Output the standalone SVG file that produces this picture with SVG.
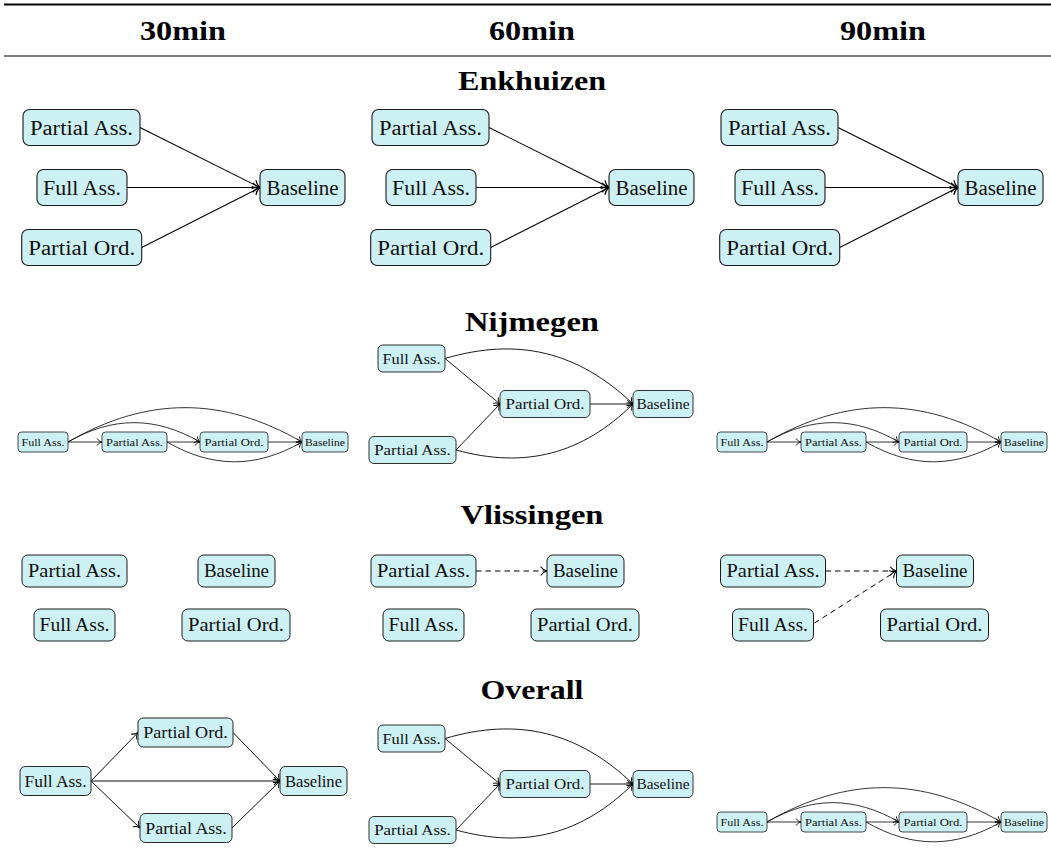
<svg xmlns="http://www.w3.org/2000/svg" width="1051" height="862" viewBox="0 0 1051 862" font-family="'Liberation Serif', 'Times New Roman', serif">
<defs>
<style>
.bg{fill:#fff}
.n rect{fill:#cdf0f3;stroke:#1a1a1a}
text.t{font-family:'Liberation Serif','Times New Roman',serif;text-anchor:middle;fill:#111}
.h{font-family:'Liberation Serif','Times New Roman',serif;font-weight:bold;font-size:28px;text-anchor:middle;fill:#000}
.rule{stroke:#000}
.e{fill:none;stroke:#000;marker-end:url(#arr)}
.d{stroke-dasharray:5.5 4}
.s20 text{font-size:20px}.s20 rect{stroke-width:1.1}.s20 .e{stroke-width:1.1}
.s18 text{font-size:18px}.s18 rect{stroke-width:1}.s18 .e{stroke-width:1}
.s16 text{font-size:15.8px}.s16 rect{stroke-width:0.95}.s16 .e{stroke-width:0.95}
.s15 text{font-size:14.8px}.s15 rect{stroke-width:0.9}.s15 .e{stroke-width:0.9}
.s11 text{font-size:11px}.s11 rect{stroke-width:0.8}.s11 .e{stroke-width:0.8}
</style>
<marker id="arr" viewBox="-7 -5 8 10" refX="0" refY="0" markerWidth="8" markerHeight="10" markerUnits="strokeWidth" orient="auto">
<path d="M-6,-4 C-4.5,-1.6 -1.5,-0.4 0,0 C-1.5,0.4 -4.5,1.6 -6,4" fill="none" stroke="#000" stroke-width="1.1" stroke-linecap="round"/>
</marker>
</defs>
<rect class="bg" x="0" y="0" width="1051" height="862"/>

<g id="table">
<line class="rule" x1="4" y1="4.5" x2="1051" y2="4.5" stroke-width="2"/>
<line class="rule" x1="4" y1="56" x2="1051" y2="56" stroke-width="1.2"/>
<text class="h" x="183" y="40" textLength="86" lengthAdjust="spacingAndGlyphs">30min</text>
<text class="h" x="532" y="40" textLength="86" lengthAdjust="spacingAndGlyphs">60min</text>
<text class="h" x="883" y="40" textLength="86" lengthAdjust="spacingAndGlyphs">90min</text>
<text class="h" x="532" y="90" textLength="148" lengthAdjust="spacingAndGlyphs">Enkhuizen</text>
<text class="h" x="532" y="331" textLength="134" lengthAdjust="spacingAndGlyphs">Nijmegen</text>
<text class="h" x="532" y="524" textLength="143" lengthAdjust="spacingAndGlyphs">Vlissingen</text>
<text class="h" x="532" y="699" textLength="103" lengthAdjust="spacingAndGlyphs">Overall</text>
</g>

<g id="connectors">
<g class="s20">
<g id="edges-enk30"><path class="e" d="M140,127.5 L260,187.5"/><path class="e" d="M127,187.5 L260,187.5"/><path class="e" d="M141.7,247.5 L260,187.5"/></g>
<g id="edges-enk60" transform="translate(349 0)"><path class="e" d="M140,127.5 L260,187.5"/><path class="e" d="M127,187.5 L260,187.5"/><path class="e" d="M141.7,247.5 L260,187.5"/></g>
<g id="edges-enk90" transform="translate(698 0)"><path class="e" d="M140,127.5 L260,187.5"/><path class="e" d="M127,187.5 L260,187.5"/><path class="e" d="M141.7,247.5 L260,187.5"/></g>
</g>
<g class="s11">
<g id="edges-nij30"><path class="e" d="M68,442 L102,442"/><path class="e" d="M167,442 L200,442"/><path class="e" d="M268,442 L302,442"/><path class="e" d="M68,442 C112.8,416.2 155.2,416.2 200,442"/><path class="e" d="M68,442 C147.3,396.2 222.7,396.2 302,442"/><path class="e" d="M167,442 C212.8,468.4 256.2,468.4 302,442"/></g>
<g id="edges-nij90" transform="translate(699 0)"><path class="e" d="M68,442 L102,442"/><path class="e" d="M167,442 L200,442"/><path class="e" d="M268,442 L302,442"/><path class="e" d="M68,442 C112.8,416.2 155.2,416.2 200,442"/><path class="e" d="M68,442 C147.3,396.2 222.7,396.2 302,442"/><path class="e" d="M167,442 C212.8,468.4 256.2,468.4 302,442"/></g>
<g id="edges-all90" transform="translate(699 380)"><path class="e" d="M68,442 L102,442"/><path class="e" d="M167,442 L200,442"/><path class="e" d="M268,442 L302,442"/><path class="e" d="M68,442 C112.8,416.2 155.2,416.2 200,442"/><path class="e" d="M68,442 C147.3,396.2 222.7,396.2 302,442"/><path class="e" d="M167,442 C212.8,468.4 256.2,468.4 302,442"/></g>
</g>
<g class="s15">
<g id="edges-nij60"><path class="e" d="M445,358.5 L500,404"/><path class="e" d="M456,450 L500,404"/><path class="e" d="M590,404 L633,404"/><path class="e" d="M445,358.5 C517.7,337 578.2,351.6 633,404"/><path class="e" d="M456,450 C525,469 582,454.3 633,404"/></g>
<g id="edges-all60" transform="translate(0 380)"><path class="e" d="M445,358.5 L500,404"/><path class="e" d="M456,450 L500,404"/><path class="e" d="M590,404 L633,404"/><path class="e" d="M445,358.5 C517.7,337 578.2,351.6 633,404"/><path class="e" d="M456,450 C525,469 582,454.3 633,404"/></g>
</g>
<g class="s18">
<g id="edges-vli60" transform="translate(349 0)"><path class="e d" d="M127,571 L198,571"/></g>
<g id="edges-vli90" transform="translate(698.5 0)"><path class="e d" d="M127,571 L198,571"/><path class="e d" d="M116,623 L198,571"/></g>
</g>
<g class="s16">
<g id="edges-all30"><path class="e" d="M91,781 L138,732.5"/><path class="e" d="M91,781 L280,781"/><path class="e" d="M91,781 L140,828"/><path class="e" d="M233,732.5 L280,781"/><path class="e" d="M232,828 L280,781"/></g>
</g>
</g>

<!-- Enkhuizen -->
<g class="s20" font-family="'Liberation Serif', 'Times New Roman', serif">
<g id="nodes-enk30">
<g id="enk30-pa" class="n"><rect x="23" y="109.5" width="117" height="36" rx="6.5"/><text class="t" x="81.5" y="134.5" textLength="103" lengthAdjust="spacingAndGlyphs">Partial Ass.</text></g>
<g id="enk30-fa" class="n"><rect x="37" y="169.5" width="90" height="36" rx="6.5"/><text class="t" x="82" y="194.5" textLength="78" lengthAdjust="spacingAndGlyphs">Full Ass.</text></g>
<g id="enk30-po" class="n"><rect x="21.7" y="229.5" width="120" height="36" rx="6.5"/><text class="t" x="81.7" y="254.5" textLength="107" lengthAdjust="spacingAndGlyphs">Partial Ord.</text></g>
<g id="enk30-bl" class="n"><rect x="260" y="169.5" width="85" height="36" rx="6.5"/><text class="t" x="302.5" y="194.5" textLength="72" lengthAdjust="spacingAndGlyphs">Baseline</text></g>
</g>
<g id="nodes-enk60" transform="translate(349 0)">
<g id="enk60-pa" class="n"><rect x="23" y="109.5" width="117" height="36" rx="6.5"/><text class="t" x="81.5" y="134.5" textLength="103" lengthAdjust="spacingAndGlyphs">Partial Ass.</text></g>
<g id="enk60-fa" class="n"><rect x="37" y="169.5" width="90" height="36" rx="6.5"/><text class="t" x="82" y="194.5" textLength="78" lengthAdjust="spacingAndGlyphs">Full Ass.</text></g>
<g id="enk60-po" class="n"><rect x="21.7" y="229.5" width="120" height="36" rx="6.5"/><text class="t" x="81.7" y="254.5" textLength="107" lengthAdjust="spacingAndGlyphs">Partial Ord.</text></g>
<g id="enk60-bl" class="n"><rect x="260" y="169.5" width="85" height="36" rx="6.5"/><text class="t" x="302.5" y="194.5" textLength="72" lengthAdjust="spacingAndGlyphs">Baseline</text></g>
</g>
<g id="nodes-enk90" transform="translate(698 0)">
<g id="enk90-pa" class="n"><rect x="23" y="109.5" width="117" height="36" rx="6.5"/><text class="t" x="81.5" y="134.5" textLength="103" lengthAdjust="spacingAndGlyphs">Partial Ass.</text></g>
<g id="enk90-fa" class="n"><rect x="37" y="169.5" width="90" height="36" rx="6.5"/><text class="t" x="82" y="194.5" textLength="78" lengthAdjust="spacingAndGlyphs">Full Ass.</text></g>
<g id="enk90-po" class="n"><rect x="21.7" y="229.5" width="120" height="36" rx="6.5"/><text class="t" x="81.7" y="254.5" textLength="107" lengthAdjust="spacingAndGlyphs">Partial Ord.</text></g>
<g id="enk90-bl" class="n"><rect x="260" y="169.5" width="85" height="36" rx="6.5"/><text class="t" x="302.5" y="194.5" textLength="72" lengthAdjust="spacingAndGlyphs">Baseline</text></g>
</g>
</g>

<!-- Nijmegen small -->
<g class="s11" font-family="'Liberation Serif', 'Times New Roman', serif">
<g id="nodes-nij30">
<g id="nij30-fa" class="n"><rect x="18" y="432" width="50" height="20" rx="3.6"/><text class="t" x="43" y="445.9" textLength="43" lengthAdjust="spacingAndGlyphs">Full Ass.</text></g>
<g id="nij30-pa" class="n"><rect x="102" y="432" width="65" height="20" rx="3.6"/><text class="t" x="134.5" y="445.9" textLength="57" lengthAdjust="spacingAndGlyphs">Partial Ass.</text></g>
<g id="nij30-po" class="n"><rect x="200" y="432" width="68" height="20" rx="3.6"/><text class="t" x="234" y="445.9" textLength="59" lengthAdjust="spacingAndGlyphs">Partial Ord.</text></g>
<g id="nij30-bl" class="n"><rect x="302" y="432" width="46" height="20" rx="3.6"/><text class="t" x="325" y="445.9" textLength="40" lengthAdjust="spacingAndGlyphs">Baseline</text></g>
</g>
<g id="nodes-nij90" transform="translate(699 0)">
<g id="nij90-fa" class="n"><rect x="18" y="432" width="50" height="20" rx="3.6"/><text class="t" x="43" y="445.9" textLength="43" lengthAdjust="spacingAndGlyphs">Full Ass.</text></g>
<g id="nij90-pa" class="n"><rect x="102" y="432" width="65" height="20" rx="3.6"/><text class="t" x="134.5" y="445.9" textLength="57" lengthAdjust="spacingAndGlyphs">Partial Ass.</text></g>
<g id="nij90-po" class="n"><rect x="200" y="432" width="68" height="20" rx="3.6"/><text class="t" x="234" y="445.9" textLength="59" lengthAdjust="spacingAndGlyphs">Partial Ord.</text></g>
<g id="nij90-bl" class="n"><rect x="302" y="432" width="46" height="20" rx="3.6"/><text class="t" x="325" y="445.9" textLength="40" lengthAdjust="spacingAndGlyphs">Baseline</text></g>
</g>
<g id="nodes-all90" transform="translate(699 380)">
<g id="all90-fa" class="n"><rect x="18" y="432" width="50" height="20" rx="3.6"/><text class="t" x="43" y="445.9" textLength="43" lengthAdjust="spacingAndGlyphs">Full Ass.</text></g>
<g id="all90-pa" class="n"><rect x="102" y="432" width="65" height="20" rx="3.6"/><text class="t" x="134.5" y="445.9" textLength="57" lengthAdjust="spacingAndGlyphs">Partial Ass.</text></g>
<g id="all90-po" class="n"><rect x="200" y="432" width="68" height="20" rx="3.6"/><text class="t" x="234" y="445.9" textLength="59" lengthAdjust="spacingAndGlyphs">Partial Ord.</text></g>
<g id="all90-bl" class="n"><rect x="302" y="432" width="46" height="20" rx="3.6"/><text class="t" x="325" y="445.9" textLength="40" lengthAdjust="spacingAndGlyphs">Baseline</text></g>
</g>
</g>

<!-- Nijmegen / Overall 60 -->
<g class="s15" font-family="'Liberation Serif', 'Times New Roman', serif">
<g id="nodes-nij60">
<g id="nij60-fa" class="n"><rect x="378" y="345" width="67" height="27" rx="4.9"/><text class="t" x="411.5" y="363.7" textLength="58" lengthAdjust="spacingAndGlyphs">Full Ass.</text></g>
<g id="nij60-po" class="n"><rect x="500" y="390.5" width="90" height="27" rx="4.9"/><text class="t" x="545" y="409.2" textLength="79" lengthAdjust="spacingAndGlyphs">Partial Ord.</text></g>
<g id="nij60-bl" class="n"><rect x="633" y="390.5" width="60" height="27" rx="4.9"/><text class="t" x="663" y="409.2" textLength="53" lengthAdjust="spacingAndGlyphs">Baseline</text></g>
<g id="nij60-pa" class="n"><rect x="369" y="436.5" width="87" height="27" rx="4.9"/><text class="t" x="412.5" y="455.2" textLength="76.5" lengthAdjust="spacingAndGlyphs">Partial Ass.</text></g>
</g>
<g id="nodes-all60" transform="translate(0 380)">
<g id="all60-fa" class="n"><rect x="378" y="345" width="67" height="27" rx="4.9"/><text class="t" x="411.5" y="363.7" textLength="58" lengthAdjust="spacingAndGlyphs">Full Ass.</text></g>
<g id="all60-po" class="n"><rect x="500" y="390.5" width="90" height="27" rx="4.9"/><text class="t" x="545" y="409.2" textLength="79" lengthAdjust="spacingAndGlyphs">Partial Ord.</text></g>
<g id="all60-bl" class="n"><rect x="633" y="390.5" width="60" height="27" rx="4.9"/><text class="t" x="663" y="409.2" textLength="53" lengthAdjust="spacingAndGlyphs">Baseline</text></g>
<g id="all60-pa" class="n"><rect x="369" y="436.5" width="87" height="27" rx="4.9"/><text class="t" x="412.5" y="455.2" textLength="76.5" lengthAdjust="spacingAndGlyphs">Partial Ass.</text></g>
</g>
</g>

<!-- Vlissingen -->
<g class="s18" font-family="'Liberation Serif', 'Times New Roman', serif">
<g id="nodes-vli30">
<g id="vli30-pa" class="n"><rect x="22" y="555" width="105" height="32" rx="5.9"/><text class="t" x="74.5" y="577.3" textLength="93" lengthAdjust="spacingAndGlyphs">Partial Ass.</text></g>
<g id="vli30-bl" class="n"><rect x="198" y="555" width="77" height="32" rx="5.9"/><text class="t" x="236.5" y="577.3" textLength="65" lengthAdjust="spacingAndGlyphs">Baseline</text></g>
<g id="vli30-fa" class="n"><rect x="34" y="609" width="81" height="32" rx="5.9"/><text class="t" x="74.5" y="631.3" textLength="70" lengthAdjust="spacingAndGlyphs">Full Ass.</text></g>
<g id="vli30-po" class="n"><rect x="182" y="609" width="108" height="32" rx="5.9"/><text class="t" x="236" y="631.3" textLength="96" lengthAdjust="spacingAndGlyphs">Partial Ord.</text></g>
</g>
<g id="nodes-vli60" transform="translate(349 0)">
<g id="vli60-pa" class="n"><rect x="22" y="555" width="105" height="32" rx="5.9"/><text class="t" x="74.5" y="577.3" textLength="93" lengthAdjust="spacingAndGlyphs">Partial Ass.</text></g>
<g id="vli60-bl" class="n"><rect x="198" y="555" width="77" height="32" rx="5.9"/><text class="t" x="236.5" y="577.3" textLength="65" lengthAdjust="spacingAndGlyphs">Baseline</text></g>
<g id="vli60-fa" class="n"><rect x="34" y="609" width="81" height="32" rx="5.9"/><text class="t" x="74.5" y="631.3" textLength="70" lengthAdjust="spacingAndGlyphs">Full Ass.</text></g>
<g id="vli60-po" class="n"><rect x="182" y="609" width="108" height="32" rx="5.9"/><text class="t" x="236" y="631.3" textLength="96" lengthAdjust="spacingAndGlyphs">Partial Ord.</text></g>
</g>
<g id="nodes-vli90" transform="translate(698.5 0)">
<g id="vli90-pa" class="n"><rect x="22" y="555" width="105" height="32" rx="5.9"/><text class="t" x="74.5" y="577.3" textLength="93" lengthAdjust="spacingAndGlyphs">Partial Ass.</text></g>
<g id="vli90-bl" class="n"><rect x="198" y="555" width="77" height="32" rx="5.9"/><text class="t" x="236.5" y="577.3" textLength="65" lengthAdjust="spacingAndGlyphs">Baseline</text></g>
<g id="vli90-fa" class="n"><rect x="34" y="609" width="81" height="32" rx="5.9"/><text class="t" x="74.5" y="631.3" textLength="70" lengthAdjust="spacingAndGlyphs">Full Ass.</text></g>
<g id="vli90-po" class="n"><rect x="182" y="609" width="108" height="32" rx="5.9"/><text class="t" x="236" y="631.3" textLength="96" lengthAdjust="spacingAndGlyphs">Partial Ord.</text></g>
</g>
</g>

<!-- Overall 30 -->
<g class="s16" font-family="'Liberation Serif', 'Times New Roman', serif">
<g id="nodes-all30">
<g id="all30-fa" class="n"><rect x="20" y="766.5" width="71" height="29" rx="5.2"/><text class="t" x="55.5" y="786.5" textLength="62" lengthAdjust="spacingAndGlyphs">Full Ass.</text></g>
<g id="all30-po" class="n"><rect x="138" y="718" width="95" height="29" rx="5.2"/><text class="t" x="185.5" y="738" textLength="84.5" lengthAdjust="spacingAndGlyphs">Partial Ord.</text></g>
<g id="all30-pa" class="n"><rect x="140" y="813.5" width="92" height="29" rx="5.2"/><text class="t" x="186" y="833.5" textLength="81.5" lengthAdjust="spacingAndGlyphs">Partial Ass.</text></g>
<g id="all30-bl" class="n"><rect x="280" y="766.5" width="67" height="29" rx="5.2"/><text class="t" x="313.5" y="786.5" textLength="57" lengthAdjust="spacingAndGlyphs">Baseline</text></g>
</g>
</g>
</svg>
